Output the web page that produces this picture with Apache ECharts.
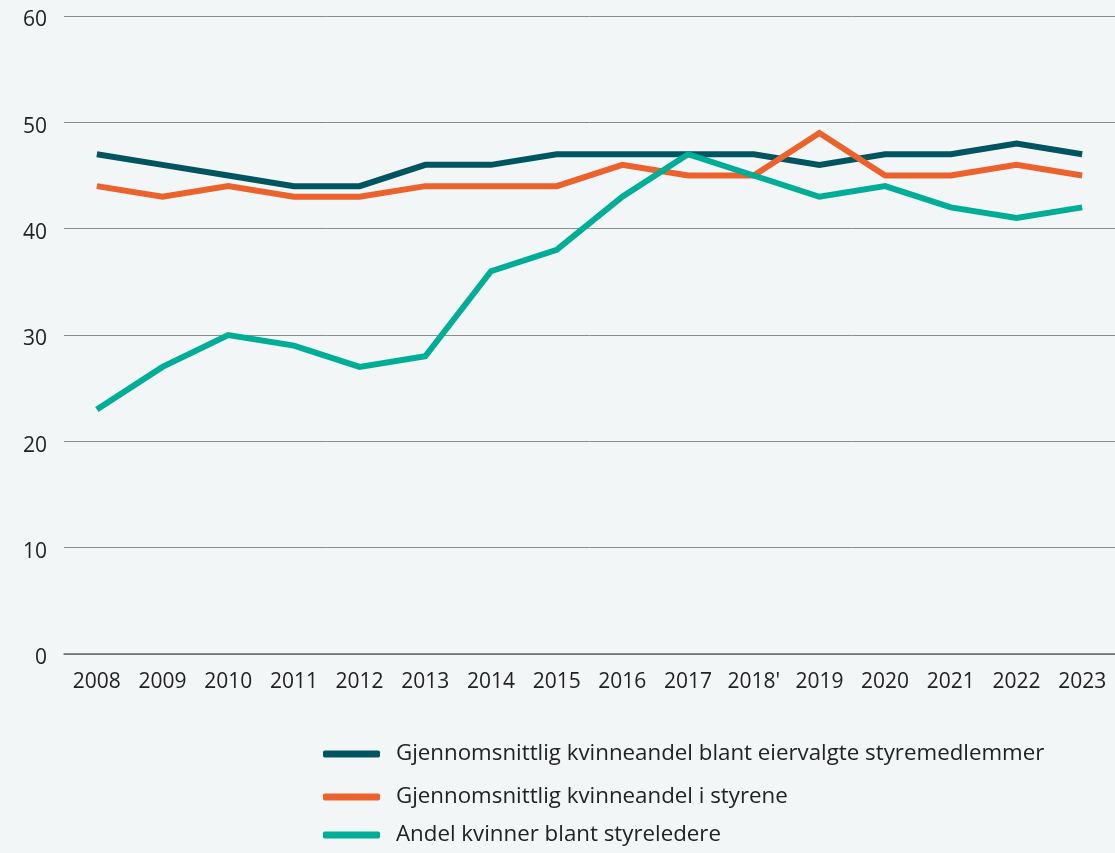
<!DOCTYPE html>
<html>
<head>
<meta charset="utf-8">
<script src="https://cdn.jsdelivr.net/npm/echarts@6/dist/echarts.min.js"></script>
<style>
  html, body { margin: 0; padding: 0; background: #f3f6f7; }
  #chart { width: 1115px; height: 853px; }
</style>
</head>
<body>
<div id="chart"></div>
<script>
// Years on the x axis
const years = ['2008', '2009', '2010', '2011', '2012', '2013', '2014', '2015',
  '2016', '2017', "2018'", '2019', '2020', '2021', '2022', '2023'];

// Series names
const nameOwners = 'Gjennomsnittlig kvinneandel blant eiervalgte styremedlemmer';
const nameBoards = 'Gjennomsnittlig kvinneandel i styrene';
const nameChairs = 'Andel kvinner blant styreledere';

// Percent values per year
const ownersElected = [47, 46, 45, 44, 44, 46, 46, 47, 47, 47, 47, 46, 47, 47, 48, 47];
const boardsTotal   = [44, 43, 44, 43, 43, 44, 44, 44, 46, 45, 45, 49, 45, 45, 46, 45];
const chairs        = [23, 27, 30, 29, 27, 28, 36, 38, 43, 47, 45, 43, 44, 42, 41, 42];

const colors = { owners: '#005560', boards: '#eb622c', chairs: '#00ad96' };
const FONT = '"Open Sans", "Noto Sans", sans-serif';

function lineSeries(name, data, color) {
  return {
    name: name,
    type: 'line',
    data: data,
    symbol: 'none',
    lineStyle: { color: color, width: 6, join: 'miter' },
    itemStyle: { color: color },
    z: 3
  };
}

function legendFor(name, top) {
  return {
    data: [name],
    left: 323,
    top: top,
    padding: 0,
    icon: 'roundRect',
    itemWidth: 57,
    itemHeight: 7,
    itemGap: 0,
    textStyle: { fontFamily: FONT, fontSize: 22.3, color: '#222', padding: [0, 0, 0, 11] },
    selectedMode: false
  };
}

const chart = echarts.init(document.getElementById('chart'), null, { renderer: 'canvas' });
chart.setOption({
  backgroundColor: '#f3f6f7',
  animation: false,
  grid: { left: 64, right: -1, top: 16, bottom: 199, containLabel: false },
  legend: [
    legendFor(nameOwners, 743),
    legendFor(nameBoards, 786),
    legendFor(nameChairs, 824)
  ],
  xAxis: {
    type: 'category',
    data: years,
    boundaryGap: true,
    axisLine: { lineStyle: { color: '#6b6b6b', width: 1.5 } },
    axisTick: { alignWithLabel: true, length: 5, lineStyle: { color: '#8a8a8a' } },
    axisLabel: { fontFamily: FONT, fontSize: 21, color: '#222', margin: 18, interval: 0 }
  },
  yAxis: {
    type: 'value',
    min: 0,
    max: 60,
    interval: 10,
    axisLine: { show: false },
    axisTick: { show: false },
    // labels sit a little below their grid lines
    axisLabel: { fontFamily: FONT, fontSize: 21, color: '#222', margin: 17, verticalAlign: 'top', lineHeight: 9 },
    splitLine: { lineStyle: { color: '#8c8c8c', width: 1 } }
  },
  series: [
    lineSeries(nameOwners, ownersElected, colors.owners),
    lineSeries(nameBoards, boardsTotal, colors.boards),
    lineSeries(nameChairs, chairs, colors.chairs)
  ]
});
</script>
</body>
</html>
